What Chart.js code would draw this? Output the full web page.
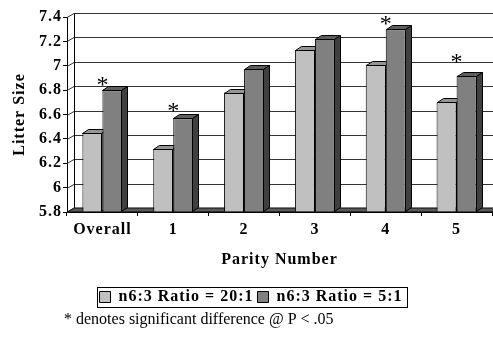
<!DOCTYPE html>
<html>
<head>
<meta charset="utf-8">
<script src="https://cdn.jsdelivr.net/npm/chart.js@4.4.1/dist/chart.umd.min.js"></script>
<style>
  html, body { margin: 0; padding: 0; background: #fff; }
</style>
</head>
<body>
<canvas id="litterChart" width="493" height="337"></canvas>
<script>
const categories = ['Overall', '1', '2', '3', '4', '5'];
const ratio20to1 = [6.45, 6.32, 6.78, 7.13, 7.01, 6.70];
const ratio5to1 = [6.80, 6.57, 6.97, 7.22, 7.30, 6.92];
// where the "*" marks sit (y value), null = no mark
const sigMarks = [6.88, 6.67, null, null, 7.38, 7.07];
const yTicks = [5.8, 6, 6.2, 6.4, 6.6, 6.8, 7, 7.2, 7.4];

const SERIF = "'Liberation Serif', 'Times New Roman', serif";
const BAR_DX = 6, BAR_DY = 4;   // bar depth
const WALL_DX = 7, WALL_DY = 4; // wall depth

function poly(ctx, pts, fill) {
    ctx.beginPath();
    ctx.moveTo(pts[0][0], pts[0][1]);
    for (let i = 1; i < pts.length; i++) ctx.lineTo(pts[i][0], pts[i][1]);
    ctx.closePath();
    ctx.fillStyle = fill;
    ctx.fill();
    ctx.stroke();
}

const excel3d = {
    id: 'excel3d',
    beforeUpdate(chart) {
        chart.ctx.letterSpacing = '1px';
    },
    beforeDraw(chart) {
        chart.ctx.letterSpacing = '1px';
    },
    beforeDatasetsDraw(chart) {
        const {ctx, chartArea: a, scales: {y}} = chart;
        ctx.save();
        ctx.strokeStyle = '#000';
        ctx.lineWidth = 1;
        // floor
        poly(ctx, [[a.left, a.bottom], [a.right, a.bottom],
                   [a.right + WALL_DX, a.bottom - WALL_DY], [a.left + WALL_DX, a.bottom - WALL_DY]], '#5a5a5a');
        // gridlines on side wall + back wall
        ctx.strokeStyle = '#333';
        yTicks.forEach(v => {
            const py = Math.round(y.getPixelForValue(v)) + 0.5;
            ctx.beginPath();
            ctx.moveTo(a.left, py);
            ctx.lineTo(a.left + WALL_DX, py - WALL_DY);
            ctx.lineTo(chart.width, py - WALL_DY);
            ctx.stroke();
        });
        // back wall left edge
        const top = Math.round(y.getPixelForValue(yTicks[yTicks.length - 1])) + 0.5 - WALL_DY;
        ctx.strokeStyle = '#000';
        ctx.beginPath();
        ctx.moveTo(a.left + WALL_DX + 0.5, top);
        ctx.lineTo(a.left + WALL_DX + 0.5, a.bottom - WALL_DY);
        ctx.stroke();
        ctx.restore();
    },
    // bars are drawn below, one series after the other, with their 3d faces
    beforeDatasetDraw() {
        return false;
    },
    afterDatasetsDraw(chart) {
        const ctx = chart.ctx;
        chart.data.datasets.forEach((ds, i) => {
            const meta = chart.getDatasetMeta(i);
            meta.data.forEach(bar => {
                bar.draw(ctx);
                ctx.save();
                ctx.strokeStyle = '#000';
                ctx.lineWidth = 1;
                const l = Math.round(bar.x - bar.width / 2) + 0.5;
                const r = Math.round(bar.x + bar.width / 2) - 0.5;
                const t = Math.round(bar.y) + 0.5;
                const b = Math.round(bar.base) - 0.5;
                poly(ctx, [[l, t], [l + BAR_DX, t - BAR_DY], [r + BAR_DX, t - BAR_DY], [r, t]], ds.topColor);
                poly(ctx, [[r, t], [r + BAR_DX, t - BAR_DY], [r + BAR_DX, b - BAR_DY], [r, b]], ds.sideColor);
                ctx.restore();
            });
        });
    },
    afterDraw(chart) {
        const {ctx, scales: {x, y}, legend} = chart;
        ctx.save();
        ctx.letterSpacing = '0px';
        // significance marks
        ctx.fillStyle = '#000';
        ctx.textAlign = 'center';
        ctx.textBaseline = 'alphabetic';
        ctx.font = '24px ' + SERIF;
        sigMarks.forEach((v, i) => {
            if (v === null) return;
            ctx.fillText('*', x.getPixelForValue(i), y.getPixelForValue(v) + 12);
        });
        // legend frame
        const hb = legend.legendHitBoxes;
        if (hb && hb.length) {
            const l = Math.min(...hb.map(h => h.left)) - 3;
            const r = Math.max(...hb.map(h => h.left + h.width)) + 4;
            const t = hb[0].top - 2;
            const b = hb[0].top + hb[0].height + 2;
            ctx.strokeStyle = '#000';
            ctx.lineWidth = 1;
            ctx.strokeRect(Math.round(l) + 0.5, Math.round(t) + 0.5, Math.round(r - l), Math.round(b - t));
        }
        // footnote
        ctx.textAlign = 'left';
        ctx.textBaseline = 'middle';
        ctx.font = '16px ' + SERIF;
        ctx.fillText('* denotes significant difference @ P < .05', 64, 320);
        ctx.restore();
    }
};

const ctx = document.getElementById('litterChart').getContext('2d');

new Chart(ctx, {
    type: 'bar',
    data: {
        labels: categories,
        datasets: [{
            label: 'n6:3 Ratio = 20:1',
            data: ratio20to1,
            base: yTicks[0],
            backgroundColor: '#c0c0c0',
            topColor: '#959595',
            sideColor: '#6a6a6a',
            borderColor: '#000',
            borderWidth: 1
        }, {
            label: 'n6:3 Ratio = 5:1',
            data: ratio5to1,
            base: yTicks[0],
            backgroundColor: '#808080',
            topColor: '#5e5e5e',
            sideColor: '#404040',
            borderColor: '#000',
            borderWidth: 1
        }]
    },
    options: {
        responsive: false,
        animation: false,
        events: [],
        categoryPercentage: 0.565,
        barPercentage: 1,
        layout: { padding: { top: 17, right: 1, left: 10, bottom: 22 } },
        scales: {
            x: {
                grid: { drawOnChartArea: false, drawTicks: true, tickLength: 4, color: '#000' },
                border: { color: '#000' },
                ticks: { color: '#000', padding: 4, font: { family: SERIF, size: 16, weight: 'bold' } },
                title: {
                    display: true,
                    text: 'Parity Number',
                    color: '#000',
                    font: { family: SERIF, size: 16, weight: 'bold' },
                    padding: { top: 0, bottom: 16 }
                },
                afterFit(scale) { scale.height = 73; }
            },
            y: {
                min: 5.8,
                max: 7.4,
                afterBuildTicks(scale) { scale.ticks = yTicks.map(v => ({ value: v })); },
                grid: { drawOnChartArea: false, drawTicks: true, tickLength: 4, color: '#000' },
                border: { color: '#000' },
                ticks: {
                    color: '#000',
                    padding: 1,
                    font: { family: SERIF, size: 16, weight: 'bold' },
                    callback: v => String(v)
                },
                title: {
                    display: true,
                    text: 'Litter Size',
                    color: '#000',
                    font: { family: SERIF, size: 16, weight: 'bold' },
                    padding: { top: 0, bottom: 0 }
                },
                afterFit(scale) { scale.width = 57; }
            }
        },
        plugins: {
            legend: {
                position: 'bottom',
                labels: {
                    color: '#000',
                    boxWidth: 11,
                    boxHeight: 11,
                    padding: 4,
                    font: { family: SERIF, size: 16, weight: 'bold' }
                }
            },
            tooltip: { enabled: false }
        }
    },
    plugins: [excel3d]
});
</script>
</body>
</html>
